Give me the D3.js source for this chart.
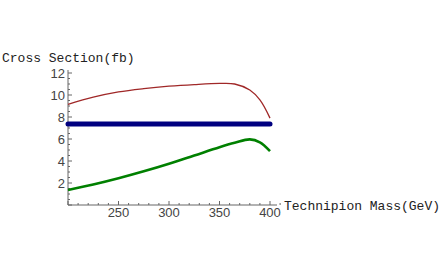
<!DOCTYPE html>
<html><head><meta charset="utf-8">
<script src="https://cdn.jsdelivr.net/npm/d3@7"></script>
<style>body{margin:0;background:#fff}svg{display:block}</style>
</head><body><svg id="c" width="442" height="273"></svg>
<script>
const masses = [200, 225, 250, 275, 300, 325, 350, 365, 380, 390, 400];
const redSeries = [9.15, 9.8, 10.28, 10.58, 10.8, 10.95, 11.05, 11.0, 10.45, 9.55, 7.9];
const greenSeries = [1.36, 1.86, 2.43, 3.06, 3.75, 4.5, 5.25, 5.65, 5.97, 5.7, 4.9];
const blueValue = 7.36;
const xTicks = [250, 300, 350, 400];
const yTicks = [2, 4, 6, 8, 10, 12];

const svg = d3.select('#c');
const x = d3.scaleLinear().domain([200, 400]).range([68, 270]);
const y = d3.scaleLinear().domain([0, 12]).range([205, 73]);
const axisColor = '#666';

// x axis
svg.append('line').attr('x1', 68).attr('x2', 277).attr('y1', 205).attr('y2', 205).attr('stroke', axisColor);
const xMinor = d3.range(200, 411, 10);
svg.selectAll('.xm').data(xMinor).join('line')
  .attr('x1', d => x(d)).attr('x2', d => x(d)).attr('y1', 205).attr('y2', d => d % 50 === 0 ? 201 : 203)
  .attr('stroke', axisColor);
svg.selectAll('.xl').data(xTicks).join('text')
  .attr('x', d => x(d)).attr('y', 217).attr('text-anchor', 'middle')
  .attr('font-family', 'Liberation Sans, Arial, sans-serif').attr('font-size', 13).attr('fill', '#444')
  .text(d => d);

// y axis
svg.append('line').attr('x1', 68).attr('x2', 68).attr('y1', 205).attr('y2', 70).attr('stroke', axisColor);
const yMinor = d3.range(0, 12.01, 0.5);
svg.selectAll('.ym').data(yMinor).join('line')
  .attr('x1', 68).attr('x2', d => d % 2 === 0 ? 72 : 70).attr('y1', d => y(d)).attr('y2', d => y(d))
  .attr('stroke', axisColor);
svg.selectAll('.yl').data(yTicks).join('text')
  .attr('x', 65).attr('y', d => y(d) + 4.5).attr('text-anchor', 'end')
  .attr('font-family', 'Liberation Sans, Arial, sans-serif').attr('font-size', 13).attr('fill', '#444')
  .text(d => d);

const line = d3.line().x((d, i) => x(masses[i])).y(d => y(d)).curve(d3.curveCatmullRom.alpha(0.5));

svg.append('path').datum(redSeries).attr('d', line).attr('fill', 'none')
  .attr('stroke', '#a02828').attr('stroke-width', 1.3);
svg.append('path').datum(greenSeries).attr('d', line).attr('fill', 'none')
  .attr('stroke', '#008000').attr('stroke-width', 2.6);
svg.append('line').attr('x1', x(200)).attr('x2', x(400)).attr('y1', y(blueValue)).attr('y2', y(blueValue))
  .attr('stroke', '#000080').attr('stroke-width', 5).attr('stroke-linecap', 'round');

svg.append('text').attr('x', 2).attr('y', 62)
  .attr('font-family', 'Liberation Mono, Courier New, monospace').attr('font-size', 13).attr('fill', '#222')
  .text('Cross Section(fb)');
svg.append('text').attr('x', 284).attr('y', 210)
  .attr('font-family', 'Liberation Mono, Courier New, monospace').attr('font-size', 13).attr('fill', '#222')
  .text('Technipion Mass(GeV)');
</script></body></html>
